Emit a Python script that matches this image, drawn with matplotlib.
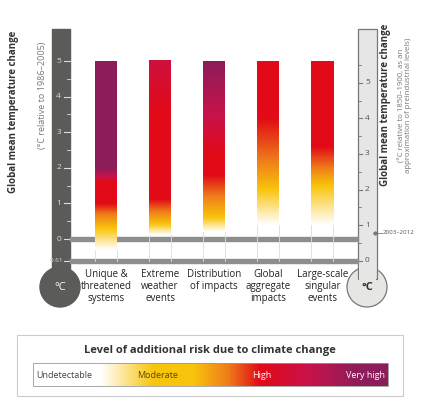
import numpy as np
import matplotlib
matplotlib.use("Agg")
import matplotlib.pyplot as plt
from matplotlib.colors import LinearSegmentedColormap
from matplotlib.patches import Rectangle, Circle, FancyBboxPatch

plt.rcParams['font.family'] = ['Open Sans', 'DejaVu Sans']

categories = ["Unique &\nthreatened\nsystems", "Extreme\nweather\nevents", "Distribution\nof impacts",
              "Global\naggregate\nimpacts", "Large-scale\nsingular\nevents"]
# risk transitions: temperature (°C rel. 1986-2005) -> risk level (0 undetectable .. 3 very high)
ember_temps = [
    [-0.3, 0.3, 0.7, 1.0, 1.6, 2.0, 5.0],
    [0.1, 0.4, 1.1, 3.5, 5.0],
    [0.2, 0.6, 1.2, 1.8, 2.4, 3.5, 5.0],
    [0.4, 1.4, 2.2, 3.4, 5.0],
    [0.4, 1.5, 2.0, 2.6, 5.0],
]
ember_levels = [
    [0, 1, 1.5, 2, 2, 3, 3],
    [0, 1, 2, 2, 2.3],
    [0, 1, 1.5, 2, 2, 2.4, 3],
    [0, 1, 1.5, 2, 2],
    [0, 1, 1.5, 2, 2],
]
left_ticks = [0, 1, 2, 3, 4, 5]
right_ticks = [0, 1, 2, 3, 4, 5]
offset = 0.61          # 1986-2005 relative to 1850-1900
obs_2003_2012 = 0.78   # right-axis value

cmap = LinearSegmentedColormap.from_list("risk", [(0, "#ffffff"), (1/3, "#f9c40c"),
                                                   (0.5, "#ef7d1a"), (2/3, "#e20a17"),
                                                   (0.8, "#c8124a"), (1.0, "#8c1d5a")])

W, H = 428, 417
fig = plt.figure(figsize=(W/100, H/100), dpi=100)

bg = fig.add_axes([0, 0, 1, 1])
bg.set_xlim(0, W); bg.set_ylim(H, 0); bg.axis("off")

py0, ppd = 239.0, 35.6
x0, dx = 106.0, 54.1
ylo, yhi = (py0 - 310) / ppd, (py0 - 20) / ppd
xlo, xhi = -x0 / dx, (W - x0) / dx
ax = fig.add_axes([0, 1 - 310/H, 1, 290/H])
ax.set_xlim(xlo, xhi); ax.set_ylim(ylo, yhi); ax.axis("off")
ax.patch.set_alpha(0)

def ypix(v):
    return py0 - v * ppd

dark = "#5b5b59"
bg.add_patch(Rectangle((52, 29), 18, 240, color=dark, zorder=1))
bg.add_patch(Circle((60, 287), 20, color=dark, zorder=1))
bg.text(60, 288, "°C", color="white", ha="center", va="center", fontsize=8, zorder=3)
for t in left_ticks:
    bg.text(61, ypix(t), str(t), color="#dddddd", ha="right", va="center", fontsize=6, zorder=3)
    bg.plot([64, 70], [ypix(t)]*2, color="#dddddd", lw=0.8, zorder=3)
for t in np.arange(0.5, 5.0, 1.0):
    bg.plot([67, 70], [ypix(t)]*2, color="#dddddd", lw=0.6, zorder=3)
bg.plot([64, 70], [ypix(-offset)]*2, color="#dddddd", lw=0.8, zorder=3)
bg.text(63, ypix(-offset), "-0.61", color="#dddddd", ha="right", va="center", fontsize=4.5, zorder=3)

light = "#e6e6e5"
bg.add_patch(Circle((367, 287), 20, facecolor=light, edgecolor="#777777", lw=0.9, zorder=1))
bg.add_patch(Rectangle((358, 29), 19, 250, facecolor=light, edgecolor="#777777", lw=0.9, zorder=1))
bg.add_patch(Rectangle((358.6, 262), 17.8, 20, facecolor=light, edgecolor="none", zorder=2))
bg.text(367, 288, "°C", color="#333333", ha="center", va="center", fontsize=8, fontweight="bold", zorder=3)
for t in right_ticks:
    yp = ypix(t - offset)
    bg.text(365, yp, str(t), color="#555555", ha="left", va="center", fontsize=6, zorder=3)
    bg.plot([358, 362], [yp]*2, color="#777777", lw=0.8, zorder=3)
for t in np.arange(0.5, 5.6, 1.0):
    bg.plot([358, 361], [ypix(t - offset)]*2, color="#777777", lw=0.6, zorder=3)
yo = ypix(obs_2003_2012 - offset)
bg.plot([373, 382], [yo, yo], color="#777777", lw=0.6, zorder=3)
bg.plot([375], [yo], "o", color="#777777", ms=2, zorder=3)
bg.text(383, yo, "2003–2012", color="#555555", ha="left", va="center", fontsize=4.5, zorder=3)

bg.text(14, 112, "Global mean temperature change", rotation=90, ha="center", va="center",
        fontsize=7, fontweight="bold", color="#333333")
bg.text(43, 95, "(°C relative to 1986–2005)", rotation=90, ha="center", va="center",
        fontsize=6.5, color="#777777")
bg.text(386, 105, "Global mean temperature change", rotation=90, ha="center", va="center",
        fontsize=7, fontweight="bold", color="#333333")
bg.text(405, 105, "(°C relative to 1850–1900, as an\napproximation of preindustrial levels)",
        rotation=90, ha="center", va="center", fontsize=5.6, color="#777777", linespacing=1.0)

bw = 22 / dx
for i, (ts, ls) in enumerate(zip(ember_temps, ember_levels)):
    yy = np.linspace(ts[0], ts[-1], 300)
    vals = np.interp(yy, ts, ls) / 3.0
    ax.imshow(vals[:, None], cmap=cmap, vmin=0, vmax=1, origin="lower", aspect="auto",
              extent=(i - bw/2, i + bw/2, ts[0], ts[-1]), interpolation="bilinear", zorder=2)
    for xe in (i - bw/2, i + bw/2):
        ax.plot([xe, xe], [-offset, ts[0]], color="#dddddd", lw=0.6, zorder=1)
    ax.text(i, -0.85, categories[i], ha="center", va="top", fontsize=7, color="#222222", linespacing=1.1)

for yv in (0, -offset):
    bg.add_patch(Rectangle((70, ypix(yv) - 2.2), 288, 4.4, color="#8e8e8c", zorder=4))

bg.add_patch(FancyBboxPatch((17, 335), 386, 61, boxstyle="square,pad=0", facecolor="white",
                            edgecolor="#cccccc", lw=0.8, zorder=1))
bg.text(210, 350, "Level of additional risk due to climate change", ha="center", va="center",
        fontsize=8, fontweight="bold", color="#333333")
grad = np.interp(np.linspace(0, 1, 400), [0, 0.19, 0.34, 0.45, 0.55, 0.64, 0.78, 0.92, 1.0],
                 [0, 0, 1/3, 1/3, 0.5, 2/3, 0.8, 1.0, 1.0])
bg.imshow(grad[None, :], cmap=cmap, vmin=0, vmax=1, aspect="auto", extent=(33, 388, 386, 363), zorder=2)
bg.add_patch(Rectangle((33, 363), 355, 23, fill=False, edgecolor="#999999", lw=0.6, zorder=3))
bg.text(36, 375, "Undetectable", ha="left", va="center", fontsize=6.5, color="#444444", zorder=4)
bg.text(158, 375, "Moderate", ha="center", va="center", fontsize=6.5, color="#5a4a00", zorder=4)
bg.text(262, 375, "High", ha="center", va="center", fontsize=6.5, color="white", zorder=4)
bg.text(385, 375, "Very high", ha="right", va="center", fontsize=6.5, color="white", zorder=4)

fig.savefig("out.png", dpi=100)
